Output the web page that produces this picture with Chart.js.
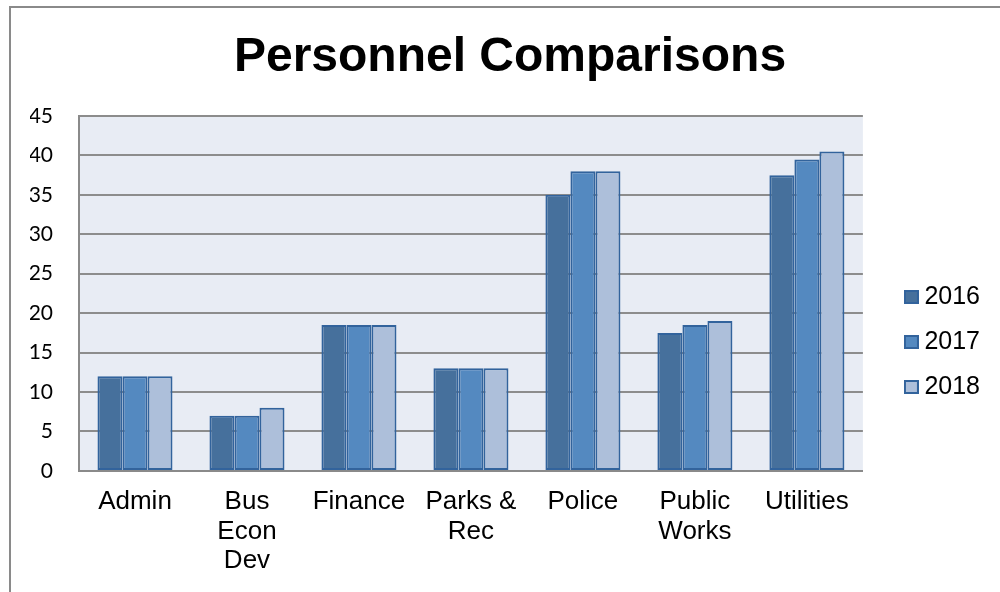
<!DOCTYPE html>
<html>
<head>
<meta charset="utf-8">
<title>Personnel Comparisons</title>
<script src="https://cdn.jsdelivr.net/npm/chart.js@4"></script>
<style>
  html, body { margin: 0; padding: 0; background: #fff; }
  #wrap { position: relative; width: 1000px; height: 592px; overflow: hidden; }
  /* frame around the chart, runs off the right and bottom edges */
  #frame { position: absolute; left: 9px; top: 6px; width: 1100px; height: 700px;
           border-left: 2px solid #8a8a8a; border-top: 2px solid #8a8a8a; }
  #myChart { position: absolute; left: 0; top: 0; }
</style>
</head>
<body>
<div id="wrap">
  <div id="frame"></div>
  <canvas id="myChart" width="1000" height="592"></canvas>
</div>
<script>
const departments = ["Admin", ["Bus", "Econ", "Dev"], "Finance", ["Parks &", "Rec"], "Police", ["Public", "Works"], "Utilities"];
const years = ["2016", "2017", "2018"];
const staff2016 = [12, 7, 18.5, 13, 35, 17.5, 37.5];
const staff2017 = [12, 7, 18.5, 13, 38, 18.5, 39.5];
const staff2018 = [12, 8, 18.5, 13, 38, 19, 40.5];
const yTicks = [0, 5, 10, 15, 20, 25, 30, 35, 40, 45];

const fills = ["#46709c", "#5489c0", "#adbfda"];
const edge = "#32639c";

// small outlined squares for the legend, so the text can sit close to them
const swatches = fills.map((c) => {
  const cv = document.createElement("canvas");
  cv.width = 15;
  cv.height = 14;
  const g = cv.getContext("2d");
  g.fillStyle = edge;
  g.fillRect(0, 0, 15, 14);
  g.fillStyle = c;
  g.fillRect(2, 2, 11, 10);
  return cv;
});

// light blue-grey panel behind the bars
const plotBg = {
  id: "plotBg",
  beforeDraw(chart) {
    const { ctx, chartArea: a } = chart;
    ctx.save();
    ctx.fillStyle = "#e8ecf4";
    ctx.fillRect(a.left, a.top, a.right - a.left, a.bottom - a.top);
    ctx.restore();
  },
};

const cxx = document.getElementById("myChart").getContext("2d");
new Chart(cxx, {
  type: "bar",
  data: {
    labels: departments,
    datasets: [staff2016, staff2017, staff2018].map((d, i) => ({
      label: years[i],
      data: d,
      backgroundColor: fills[i],
      borderColor: edge,
      borderWidth: 2,
      borderSkipped: false,
      categoryPercentage: 0.67,
      barPercentage: 1.0,
    })),
  },
  options: {
    responsive: false,
    animation: false,
    layout: { padding: { left: 30, right: 10, top: 10, bottom: 0 } },
    plugins: {
      title: {
        display: true,
        text: "Personnel Comparisons",
        color: "#000",
        font: { family: "'Liberation Sans', Arial, sans-serif", size: 48, weight: "bold", lineHeight: 1.2 },
        padding: { top: 18.6, bottom: 29.8 },
      },
      legend: {
        position: "right",
        title: { display: true, text: "", font: { size: 10, lineHeight: 1 }, padding: { top: 72, bottom: 0 } },
        labels: {
          color: "#000",
          font: { family: "'Liberation Sans', Arial, sans-serif", size: 25 },
          usePointStyle: true,
          boxWidth: 1,
          padding: 20,
          generateLabels: (chart) =>
            Chart.defaults.plugins.legend.labels.generateLabels(chart).map((item, i) => ({ ...item, pointStyle: swatches[i] })),
        },
      },
      tooltip: { enabled: false },
    },
    scales: {
      x: {
        grid: { display: false, drawTicks: false },
        border: { display: true, color: "#8a8a8a", width: 2 },
        ticks: {
          color: "#000",
          padding: 16,
          maxRotation: 0,
          autoSkip: false,
          font: { family: "'Liberation Sans', Arial, sans-serif", size: 26, lineHeight: 29.7 / 26 },
        },
      },
      y: {
        min: 0,
        max: 45,
        clip: false,
        afterBuildTicks: (s) => { s.ticks = yTicks.map((v) => ({ value: v })); },
        afterFit: (s) => { s.width = 49; },
        grid: { color: "#8c8c8c", lineWidth: 2, drawTicks: false },
        border: { display: true, color: "#8a8a8a", width: 2 },
        ticks: {
          color: "#000",
          padding: 26,
          font: { family: "Lato, 'Open Sans', sans-serif", size: 21 },
        },
      },
      // empty strip between the panel and the legend
      gap: {
        position: "right",
        display: true,
        afterFit: (s) => { s.width = 28; },
        grid: { display: false },
        border: { display: false },
        ticks: { display: false },
      },
    },
  },
  plugins: [plotBg],
});
</script>
</body>
</html>
